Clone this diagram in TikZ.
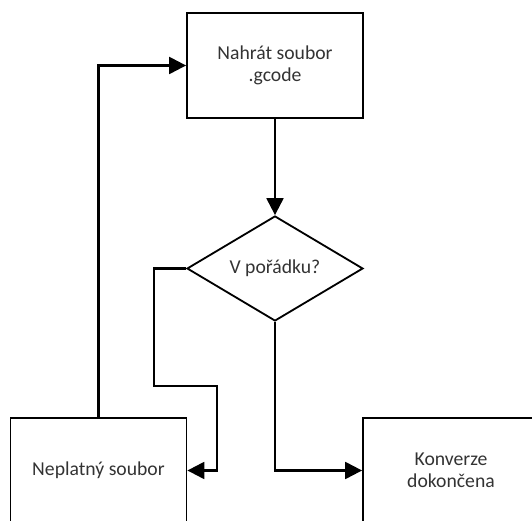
\documentclass[tikz,border=0pt]{standalone}
\usepackage{fontspec}
\setmainfont{Carlito}
\usetikzlibrary{shapes.geometric,arrows.meta}

\tikzset{
  box/.style={draw, line width=1.3pt, minimum width=4.4cm, minimum height=2.625cm,
    align=center, text=black!80, font=\fontsize{14}{15.5}\selectfont},
  decision/.style={draw, diamond, line width=1.3pt, aspect=1.676, inner sep=0pt,
    minimum width=4.4cm, minimum height=2.625cm, text=black!80,
    font=\fontsize{14}{15.5}\selectfont},
  flow/.style={line width=1.6pt, -{Triangle[length=12pt,width=12pt]}}
}

\begin{document}
\begin{tikzpicture}
\useasboundingbox (0,0) rectangle (13.3,13.025);
\node[box] (nahrat) at (6.875,11.3875) {Nahrát soubor\\.gcode};
\node[decision] (poradku) at (6.875,6.3125) {V pořádku?};
\node[box] (neplatny) at (2.4625,1.2625) {Neplatný soubor};
\node[box] (konverze) at (11.275,1.2625) {Konverze\\dokončena};

\draw[flow] (nahrat.south) -- (poradku.north);
\draw[flow] (poradku.west) -- ++(-0.8,0) -- ++(0,-2.9375) -- ++(1.575,0) |- (neplatny.east);
\draw[flow] (poradku.south) |- (konverze.west);
\draw[flow] (neplatny.north) |- (nahrat.west);
\end{tikzpicture}
\end{document}
